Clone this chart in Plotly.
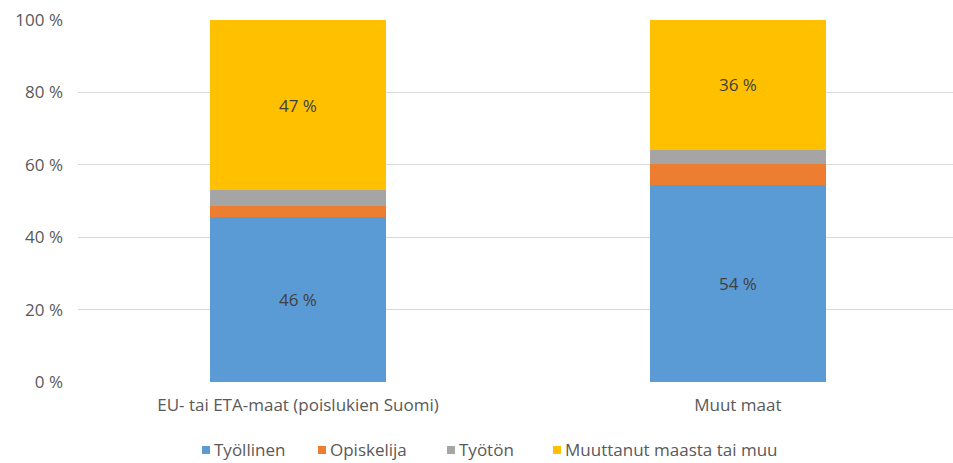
import plotly.graph_objects as go

categories = ["EU- tai ETA-maat (poislukien Suomi)", "Muut maat"]
series_names = ["Työllinen", "Opiskelija", "Työtön", "Muuttanut maasta tai muu"]
tyollinen = [45.6, 54.4]
opiskelija = [3.0, 5.7]
tyoton = [4.4, 4.0]
muuttanut = [47.0, 35.9]
label_tyollinen = ["46 %", "54 %"]
label_muuttanut = ["47 %", "36 %"]
y_ticks = [0, 20, 40, 60, 80, 100]
y_tick_text = ["0 %", "20 %", "40 %", "60 %", "80 %", "100 %"]

colors = ["#5B9BD5", "#ED7D31", "#A5A5A5", "#FFC000"]
values = [tyollinen, opiskelija, tyoton, muuttanut]
labels = [label_tyollinen, None, None, label_muuttanut]

FONT = "Open Sans"
W, H = 953, 463
ML, MT, MB, MR = 78, 20, 81, 0
plot_w = W - ML - MR
plot_h = H - MT - MB

fig = go.Figure()
for name, vals, col, lab in zip(series_names, values, colors, labels):
    fig.add_trace(go.Bar(
        name=name, x=categories, y=vals, marker=dict(color=col, line=dict(width=0)),
        width=0.4,
        text=lab if lab else None,
        textposition="inside" if lab else "none",
        insidetextanchor="middle",
        textangle=0,
        constraintext="none",
        textfont=dict(color="#404040", size=17, family=FONT),
        hoverinfo="skip",
        showlegend=False,
    ))

# manual legend (layout positions in page pixels)
legend_square_px = [206, 322, 451, 557]  # square centres, page x
legend_square_y = 450
legend_text_y = 449
shapes = []
annotations = []
for name, col, sx in zip(series_names, colors, legend_square_px):
    xa = (sx - ML) / plot_w
    ya = (H - MB - legend_square_y) / plot_h
    shapes.append(dict(type="rect", xref="paper", yref="paper",
                       xsizemode="pixel", ysizemode="pixel",
                       xanchor=xa, yanchor=ya, x0=-4, x1=4, y0=-4, y1=4,
                       fillcolor=col, line=dict(width=0)))
    annotations.append(dict(text=name, xref="paper", yref="paper",
                            x=(sx + 6 - ML) / plot_w,
                            y=(H - MB - legend_text_y) / plot_h,
                            xanchor="left", yanchor="middle", showarrow=False,
                            font=dict(size=17, color="#595959", family=FONT)))

fig.update_layout(
    barmode="stack",
    width=W, height=H,
    margin=dict(l=ML, r=MR, t=MT, b=MB),
    paper_bgcolor="white", plot_bgcolor="white",
    font=dict(family=FONT, color="#595959", size=17),
    showlegend=False,
    hovermode=False,
    shapes=shapes,
    annotations=annotations,
    xaxis=dict(range=[-0.5, 1.489], showgrid=False, showline=False, zeroline=False,
               tickfont=dict(size=17, color="#595959"), ticklabelstandoff=11),
    yaxis=dict(range=[0, 100], tickvals=y_ticks, ticktext=y_tick_text,
               showgrid=True, gridcolor="#D9D9D9", gridwidth=1, zeroline=False,
               showline=False, tickfont=dict(size=17, color="#595959"),
               ticklabelstandoff=14, ticklabeloverflow="allow"),
)

fig.write_html("out.html", config={"displayModeBar": False},
               post_script="document.body.style.margin='0';document.body.style.overflow='hidden';")
